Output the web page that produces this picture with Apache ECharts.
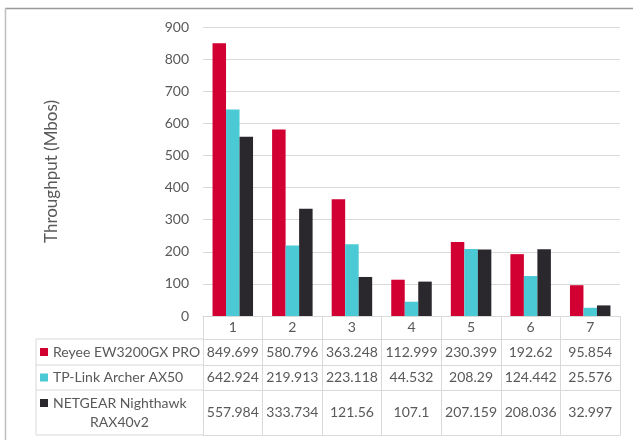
<!DOCTYPE html>
<html><head><meta charset="utf-8">
<script src="https://cdn.jsdelivr.net/npm/echarts@6/dist/echarts.min.js"></script>
<style>html,body{margin:0;padding:0;background:#fff}#c{width:633px;height:440px}</style>
</head><body><div id="c"></div>
<script>
// ---- data ----
const categories = ['1', '2', '3', '4', '5', '6', '7'];
const seriesNames = ['Reyee EW3200GX PRO', 'TP-Link Archer AX50', 'NETGEAR Nighthawk RAX40v2'];
const reyee = [849.699, 580.796, 363.248, 112.999, 230.399, 192.62, 95.854];
const tplink = [642.924, 219.913, 223.118, 44.532, 208.29, 124.442, 25.576];
const netgear = [557.984, 333.734, 121.56, 107.1, 207.159, 208.036, 32.997];
const yMin = 0, yMax = 900, yInterval = 100;
const yName = 'Throughput (Mbos)';

// ---- style / layout ----
const colors = ['#D20032', '#4BCAD5', '#2B282D'];
const txt = '#595959';
const border = '#D9D9D9';
const FONT = 'Lato';
const FS = 14;
const gridLeft = 203, gridRight = 13, gridTop = 27, gridBottom = 124;
const axisY = 440 - gridBottom; // 316
const rowHeights = [23, 26, 25, 45]; // header, then one row per series
const colLeft = 36;

const allSeries = [reyee, tplink, netgear];
const offsets = [];
let acc = 0;
rowHeights.forEach(h => { offsets.push(acc); acc += h; });

const xAxes = [];
rowHeights.forEach((h, i) => {
  const labels = i === 0 ? categories : allSeries[i - 1].map(v => String(v));
  xAxes.push({
    type: 'category', gridIndex: 0, position: 'bottom', offset: offsets[i],
    data: labels,
    axisLine: { show: true, lineStyle: { color: border, width: 1 } },
    axisTick: { show: true, interval: 0, length: h, lineStyle: { color: border, width: 1 } },
    axisLabel: { interval: 0, margin: h / 2, verticalAlign: 'middle', color: txt, fontSize: FS, fontFamily: FONT },
    splitLine: { show: false }
  });
});
// bottom closing line of the table
xAxes.push({
  type: 'category', gridIndex: 0, position: 'bottom', offset: acc, data: categories,
  axisLine: { show: true, lineStyle: { color: border, width: 1 } },
  axisTick: { show: false }, axisLabel: { show: false }
});

// left column of the data table (series names with keys)
const graphics = [];
const tableBottom = axisY + acc;
const row1Top = axisY + rowHeights[0];
graphics.push({ type: 'line', shape: { x1: colLeft, y1: row1Top, x2: colLeft, y2: tableBottom }, style: { stroke: border, lineWidth: 1 }, silent: true });
for (let i = 1; i <= rowHeights.length; i++) {
  const y = axisY + (i < rowHeights.length ? offsets[i] : acc);
  graphics.push({ type: 'line', shape: { x1: colLeft, y1: y, x2: gridLeft, y2: y }, style: { stroke: border, lineWidth: 1 }, silent: true });
}
seriesNames.forEach((name, i) => {
  const top = axisY + offsets[i + 1];
  const h = rowHeights[i + 1];
  const twoLine = h > 35;
  const firstY = twoLine ? top + 13 : top + h / 2;
  graphics.push({ type: 'rect', shape: { x: colLeft + 4, y: firstY - 4, width: 8, height: 8 }, style: { fill: colors[i] }, silent: true });
  if (!twoLine) {
    graphics.push({ type: 'text', x: colLeft + 17, y: firstY, style: { text: name, fill: txt, font: FS + 'px ' + FONT, verticalAlign: 'middle', align: 'left' }, silent: true });
  } else {
    const cut = name.lastIndexOf(' ');
    graphics.push({ type: 'text', x: colLeft + 17, y: firstY, style: { text: name.slice(0, cut), fill: txt, font: FS + 'px ' + FONT, verticalAlign: 'middle', align: 'left' }, silent: true });
    graphics.push({ type: 'text', x: (colLeft + gridLeft) / 2, y: firstY + 19, style: { text: name.slice(cut + 1), fill: txt, font: FS + 'px ' + FONT, verticalAlign: 'middle', align: 'center' }, silent: true });
  }
});
// outer chart border
graphics.push({ type: 'line', shape: { x1: 5, y1: 8.5, x2: 633, y2: 8.5 }, style: { stroke: '#999999', lineWidth: 1.5 }, silent: true });
graphics.push({ type: 'line', shape: { x1: 5.5, y1: 8, x2: 5.5, y2: 440 }, style: { stroke: '#BFBFBF', lineWidth: 1.5 }, silent: true });

const chart = echarts.init(document.getElementById('c'), null, { renderer: 'canvas' });
chart.setOption({
  animation: false,
  backgroundColor: '#fff',
  textStyle: { fontFamily: FONT },
  grid: { left: gridLeft, right: gridRight, top: gridTop, bottom: gridBottom, containLabel: false },
  xAxis: xAxes,
  yAxis: {
    type: 'value', min: yMin, max: yMax, interval: yInterval,
    name: yName, nameLocation: 'middle', nameGap: 143, nameRotate: 90,
    nameTextStyle: { color: txt, fontSize: 17, fontFamily: FONT },
    axisLine: { show: false }, axisTick: { show: false },
    axisLabel: { color: txt, fontSize: FS, margin: 14, fontFamily: FONT },
    splitLine: { lineStyle: { color: border, width: 1 } }
  },
  series: allSeries.map((d, i) => ({
    name: seriesNames[i], type: 'bar', xAxisIndex: 0, data: d,
    barGap: '0%', barCategoryGap: '32%',
    itemStyle: { color: colors[i] }
  })),
  graphic: graphics
});
</script></body></html>
